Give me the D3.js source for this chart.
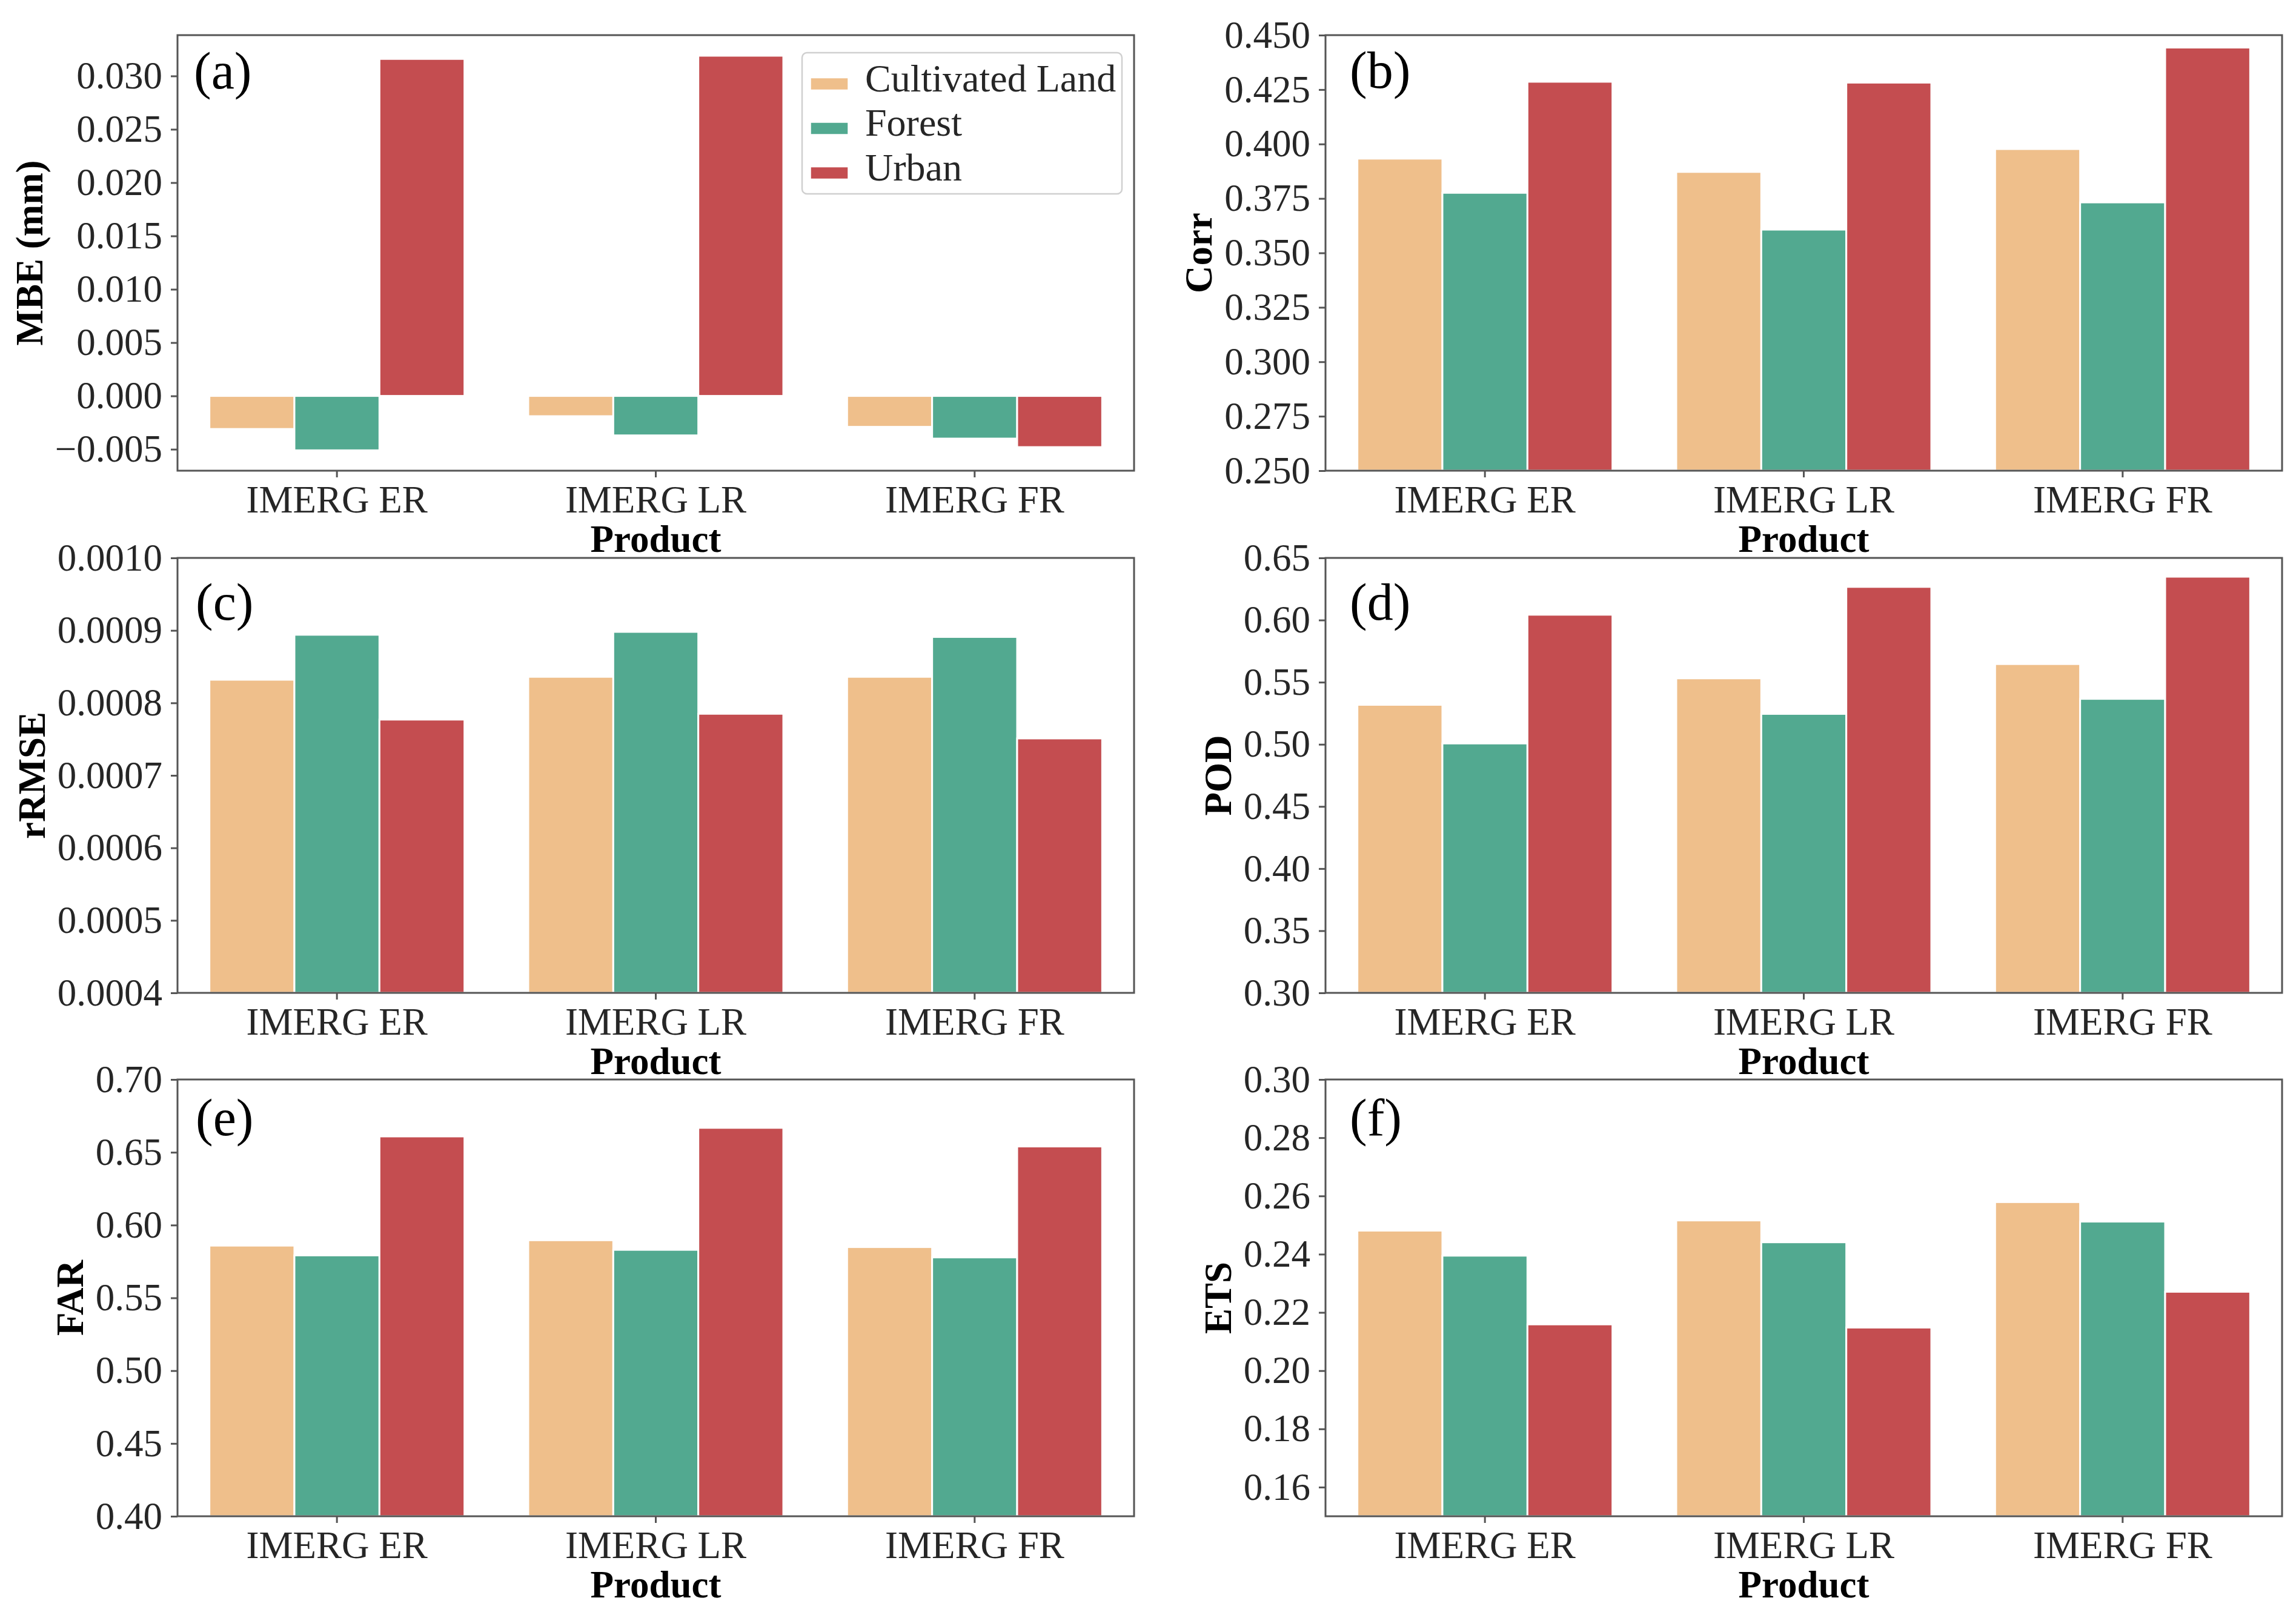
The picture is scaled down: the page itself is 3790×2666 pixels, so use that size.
<!DOCTYPE html>
<html>
<head>
<meta charset="utf-8">
<script src="https://cdn.jsdelivr.net/npm/d3@7"></script>
<style>
  body { margin: 0; background: #fff; }
  svg { display: block; font-family: "Liberation Serif", "Times New Roman", serif; }
</style>
</head>
<body>
<div id="chart"></div>
<script>
// categories and land cover classes
const products = ['IMERG ER', 'IMERG LR', 'IMERG FR'];
const landTypes = ['Cultivated Land', 'Forest', 'Urban'];
const landColors = ['#EFBF8B', '#52A990', '#C44D50'];

// one row per land type, one column per product
const mbe = [
  [-0.0031, -0.0019, -0.0029],
  [-0.0051, -0.0037, -0.0040],
  [0.0316, 0.0319, -0.0048]
];
const corr = [
  [0.3933, 0.3872, 0.3977],
  [0.3776, 0.3607, 0.3732],
  [0.4286, 0.4282, 0.4443]
];
const rrmse = [
  [0.000832, 0.000836, 0.000836],
  [0.000894, 0.000898, 0.000891],
  [0.000777, 0.000785, 0.000751]
];
const pod = [
  [0.5318, 0.5531, 0.5646],
  [0.5007, 0.5245, 0.5366],
  [0.6043, 0.6267, 0.6349]
];
const far = [
  [0.5859, 0.5896, 0.5849],
  [0.5792, 0.5830, 0.5778],
  [0.6609, 0.6668, 0.6540]
];
const ets = [
  [0.2481, 0.2516, 0.2579],
  [0.2395, 0.2441, 0.2512],
  [0.2159, 0.2148, 0.2271]
];

// tick values
const mbeTicks = [-0.005, 0, 0.005, 0.010, 0.015, 0.020, 0.025, 0.030];
const corrTicks = [0.250, 0.275, 0.300, 0.325, 0.350, 0.375, 0.400, 0.425, 0.450];
const rrmseTicks = [0.0004, 0.0005, 0.0006, 0.0007, 0.0008, 0.0009, 0.0010];
const podTicks = [0.30, 0.35, 0.40, 0.45, 0.50, 0.55, 0.60, 0.65];
const farTicks = [0.40, 0.45, 0.50, 0.55, 0.60, 0.65, 0.70];
const etsTicks = [0.16, 0.18, 0.20, 0.22, 0.24, 0.26, 0.28, 0.30];

const W = 3790, H = 2666;
const cols = [[293, 1872], [2188, 3767]];
const rows = [[58, 777], [921, 1639], [1782, 2503]];

const panels = [
  {tag: '(a)', label: 'MBE (mm)', data: mbe, ticks: mbeTicks, domain: [-0.00701, 0.03383], fmt: '.3f', col: 0, row: 0, dx: 27, dy: 88, legend: true},
  {tag: '(b)', label: 'Corr', data: corr, ticks: corrTicks, domain: [0.25, 0.45], fmt: '.3f', col: 1, row: 0, dx: 40, dy: 87},
  {tag: '(c)', label: 'rRMSE', data: rrmse, ticks: rrmseTicks, domain: [0.0004, 0.0010], fmt: '.4f', col: 0, row: 1, dx: 30, dy: 102},
  {tag: '(d)', label: 'POD', data: pod, ticks: podTicks, domain: [0.30, 0.65], fmt: '.2f', col: 1, row: 1, dx: 40, dy: 102},
  {tag: '(e)', label: 'FAR', data: far, ticks: farTicks, domain: [0.40, 0.70], fmt: '.2f', col: 0, row: 2, dx: 30, dy: 92},
  {tag: '(f)', label: 'ETS', data: ets, ticks: etsTicks, domain: [0.15, 0.30], fmt: '.2f', col: 1, row: 2, dx: 40, dy: 92}
];

const fontSize = 63;
const svg = d3.select('#chart').append('svg')
    .attr('width', W)
    .attr('height', H);

svg.append('rect').attr('width', W).attr('height', H).attr('fill', '#fff');

panels.forEach(function(p, i) {
  const [left, right] = cols[p.col];
  const [top, bottom] = rows[p.row];
  const width = right - left;
  const height = bottom - top;

  const x = d3.scaleBand()
      .domain(products)
      .range([0, width])
      .paddingInner(0.2)
      .paddingOuter(0.1);
  const xInner = d3.scaleBand()
      .domain(landTypes)
      .range([0, x.bandwidth()]);
  const y = d3.scaleLinear()
      .domain(p.domain)
      .range([height, 0])
      .clamp(true);

  const g = svg.append('g')
      .attr('transform', 'translate(' + left + ',' + top + ')');

  g.append('clipPath').attr('id', 'clip' + i)
    .append('rect').attr('width', width).attr('height', height);

  const bars = [];
  p.data.forEach(function(series, k) {
    series.forEach(function(v, j) {
      bars.push({product: products[j], land: landTypes[k], color: landColors[k], value: v});
    });
  });

  g.append('g')
      .attr('clip-path', 'url(#clip' + i + ')')
    .selectAll('rect')
    .data(bars)
    .enter().append('rect')
      .attr('x', function(d) { return x(d.product) + xInner(d.land); })
      .attr('y', function(d) { return Math.min(y(d.value), y(0)); })
      .attr('width', xInner.bandwidth())
      .attr('height', function(d) { return Math.abs(y(0) - y(d.value)); })
      .attr('fill', function(d) { return d.color; })
      .attr('stroke', '#fff')
      .attr('stroke-width', 3);

  const yAxis = g.append('g')
      .call(d3.axisLeft(y)
        .tickValues(p.ticks)
        .tickFormat(d3.format(p.fmt))
        .tickSize(11)
        .tickPadding(14));
  const xAxis = g.append('g')
      .attr('transform', 'translate(0,' + height + ')')
      .call(d3.axisBottom(x)
        .tickSize(11)
        .tickPadding(13));

  [yAxis, xAxis].forEach(function(ax) {
    ax.select('.domain').remove();
    ax.selectAll('.tick line').attr('stroke', '#555').attr('stroke-width', 3);
    ax.selectAll('.tick text')
        .attr('fill', '#262626')
        .style('font-size', fontSize + 'px')
        .style('font-family', '"Liberation Serif", "Times New Roman", serif');
  });

  g.append('rect')
      .attr('width', width)
      .attr('height', height)
      .attr('fill', 'none')
      .attr('stroke', '#555')
      .attr('stroke-width', 3);

  const tickBox = yAxis.node().getBBox();
  g.append('text')
      .attr('transform', 'translate(' + (tickBox.x - 21) + ',' + (height / 2) + ') rotate(-90)')
      .attr('text-anchor', 'middle')
      .attr('font-weight', 'bold')
      .attr('font-size', fontSize)
      .attr('fill', '#000')
      .text(p.label);

  g.append('text')
      .attr('x', width / 2)
      .attr('y', height + 134)
      .attr('text-anchor', 'middle')
      .attr('font-weight', 'bold')
      .attr('font-size', fontSize)
      .attr('fill', '#000')
      .text('Product');

  g.append('text')
      .attr('x', p.dx)
      .attr('y', p.dy)
      .attr('font-size', 86)
      .attr('fill', '#000')
      .text(p.tag);

  if (p.legend) {
    const lw = 528, lh = 233;
    const legend = g.append('g')
        .attr('transform', 'translate(' + (width - 20 - lw) + ',29)');
    legend.append('rect')
        .attr('width', lw)
        .attr('height', lh)
        .attr('rx', 8)
        .attr('fill', '#fff')
        .attr('fill-opacity', 0.8)
        .attr('stroke', '#d0d0d0')
        .attr('stroke-width', 2.5);
    const item = legend.selectAll('.item')
      .data(landTypes)
      .enter().append('g')
        .attr('class', 'item')
        .attr('transform', function(d, k) { return 'translate(0,' + (51.5 + k * 73.5) + ')'; });
    item.append('rect')
        .attr('x', 14)
        .attr('y', -10)
        .attr('width', 62)
        .attr('height', 20)
        .attr('fill', function(d, k) { return landColors[k]; })
        .attr('stroke', '#fff')
        .attr('stroke-width', 1.5);
    item.append('text')
        .attr('x', 104)
        .attr('y', 12)
        .attr('font-size', 64)
        .attr('fill', '#262626')
        .text(function(d) { return d; });
  }
});
</script>
</body>
</html>
